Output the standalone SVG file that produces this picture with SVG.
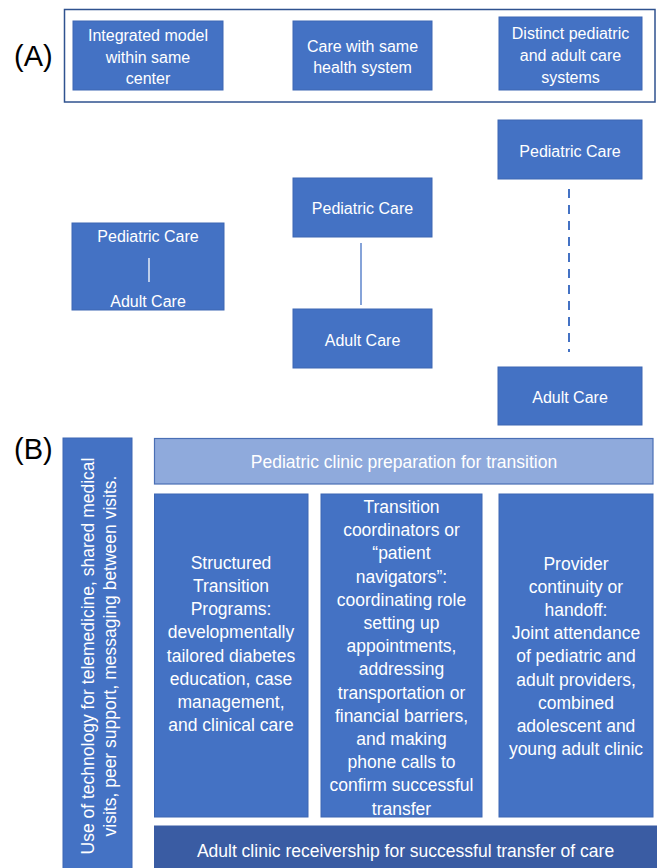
<svg xmlns="http://www.w3.org/2000/svg" width="657" height="868" viewBox="0 0 657 868">
<style>
.box{fill:#4472c4;stroke:#3d67b3;stroke-width:1}
.lt{fill:#8faadc;stroke:#4a6fb5;stroke-width:1.2}
.dk{fill:#3a5ca3;stroke:#3a5ca3;stroke-width:1}
.t{font-family:"Liberation Sans",Arial,sans-serif;fill:#ffffff;text-anchor:middle}
.s16{font-size:16px}
.s17{font-size:17.5px}
.lbl{font-family:"Liberation Sans",Arial,sans-serif;font-size:29px;fill:#000000}
</style>
<rect width="657" height="868" fill="#ffffff"/>
<text class="lbl" x="14" y="66">(A)</text>
<text class="lbl" x="14" y="459">(B)</text>
<rect id="frameA" x="64.5" y="9.5" width="590.5" height="92.5" fill="none" stroke="#2f528f" stroke-width="1.5"/>
<g id="model1">
<rect class="box" x="73" y="21" width="150" height="69"/>
<text class="t s16" x="148" y="40.5">Integrated model</text>
<text class="t s16" x="148" y="62.5">within same</text>
<text class="t s16" x="148" y="83.5">center</text>
</g>
<g id="model2">
<rect class="box" x="293" y="21" width="139" height="69"/>
<text class="t s16" x="362.5" y="51.5">Care with same</text>
<text class="t s16" x="362.5" y="72.5">health system</text>
</g>
<g id="model3">
<rect class="box" x="499" y="17" width="143" height="73"/>
<text class="t s16" x="570.5" y="38.5">Distinct pediatric</text>
<text class="t s16" x="570.5" y="60.5">and adult care</text>
<text class="t s16" x="570.5" y="82.5">systems</text>
</g>
<g id="integrated">
<rect class="box" x="72" y="223" width="152" height="87"/>
<text class="t s16" x="148" y="241.5">Pediatric Care</text>
<line x1="149" y1="258" x2="149" y2="282" stroke="#ffffff" stroke-width="1.3"/>
<text class="t s16" x="148" y="306.5">Adult Care</text>
</g>
<g id="mid-ped">
<rect class="box" x="293" y="178" width="139" height="59"/>
<text class="t s16" x="362.5" y="213.5">Pediatric Care</text>
</g>
<g id="mid-adult">
<rect class="box" x="293" y="309" width="139" height="59"/>
<text class="t s16" x="362.5" y="345.5">Adult Care</text>
</g>
<g id="right-ped">
<rect class="box" x="498" y="120" width="144" height="59"/>
<text class="t s16" x="570" y="156.5">Pediatric Care</text>
</g>
<g id="right-adult">
<rect class="box" x="498" y="367" width="144" height="58"/>
<text class="t s16" x="570" y="402.5">Adult Care</text>
</g>
<g id="connectors">
<line x1="361" y1="243" x2="361" y2="305" stroke="#4472c4" stroke-width="1.3"/>
<line x1="569" y1="189" x2="569" y2="352" stroke="#4472c4" stroke-width="2" stroke-dasharray="9 7"/>
</g>
<g id="tech">
<rect class="box" x="63" y="438" width="69" height="432"/>
<text class="t s17" transform="translate(94,656) rotate(-90)">Use of technology for telemedicine, shared medical</text>
<text class="t s17" transform="translate(116,656) rotate(-90)">visits, peer support, messaging between visits.</text>
</g>
<g id="ped-prep">
<rect class="lt" x="154.5" y="438.5" width="498.5" height="45.5"/>
<text class="t s17" x="404" y="468">Pediatric clinic preparation for transition</text>
</g>
<g id="structured">
<rect class="box" x="154.5" y="494" width="153.5" height="323"/>
<text class="t s17" x="231" y="569">Structured<tspan x="231" dy="23.15">Transition</tspan><tspan x="231" dy="23.15">Programs:</tspan><tspan x="231" dy="23.15">developmentally</tspan><tspan x="231" dy="23.15">tailored diabetes</tspan><tspan x="231" dy="23.15">education, case</tspan><tspan x="231" dy="23.15">management,</tspan><tspan x="231" dy="23.15">and clinical care</tspan></text>
</g>
<g id="coordinators">
<rect class="box" x="321" y="494" width="161" height="323"/>
<text class="t s17" x="401.5" y="513">Transition<tspan x="401.5" dy="23.2">coordinators or</tspan><tspan x="401.5" dy="23.2">“patient</tspan><tspan x="401.5" dy="23.2">navigators”:</tspan><tspan x="401.5" dy="23.2">coordinating role</tspan><tspan x="401.5" dy="23.2">setting up</tspan><tspan x="401.5" dy="23.2">appointments,</tspan><tspan x="401.5" dy="23.2">addressing</tspan><tspan x="401.5" dy="23.2">transportation or</tspan><tspan x="401.5" dy="23.2">financial barriers,</tspan><tspan x="401.5" dy="23.2">and making</tspan><tspan x="401.5" dy="23.2">phone calls to</tspan><tspan x="401.5" dy="23.2">confirm successful</tspan><tspan x="401.5" dy="23.2">transfer</tspan></text>
</g>
<g id="continuity">
<rect class="box" x="499" y="494" width="154" height="323"/>
<text class="t s17" x="576" y="570">Provider<tspan x="576" dy="23.1">continuity or</tspan><tspan x="576" dy="23.1">handoff:</tspan><tspan x="576" dy="23.1">Joint attendance</tspan><tspan x="576" dy="23.1">of pediatric and</tspan><tspan x="576" dy="23.1">adult providers,</tspan><tspan x="576" dy="23.1">combined</tspan><tspan x="576" dy="23.1">adolescent and</tspan><tspan x="576" dy="23.1">young adult clinic</tspan></text>
</g>
<g id="adult-recv">
<rect class="dk" x="154.5" y="826" width="502" height="44"/>
<text class="t s17" x="405.5" y="857">Adult clinic receivership for successful transfer of care</text>
</g>
</svg>
